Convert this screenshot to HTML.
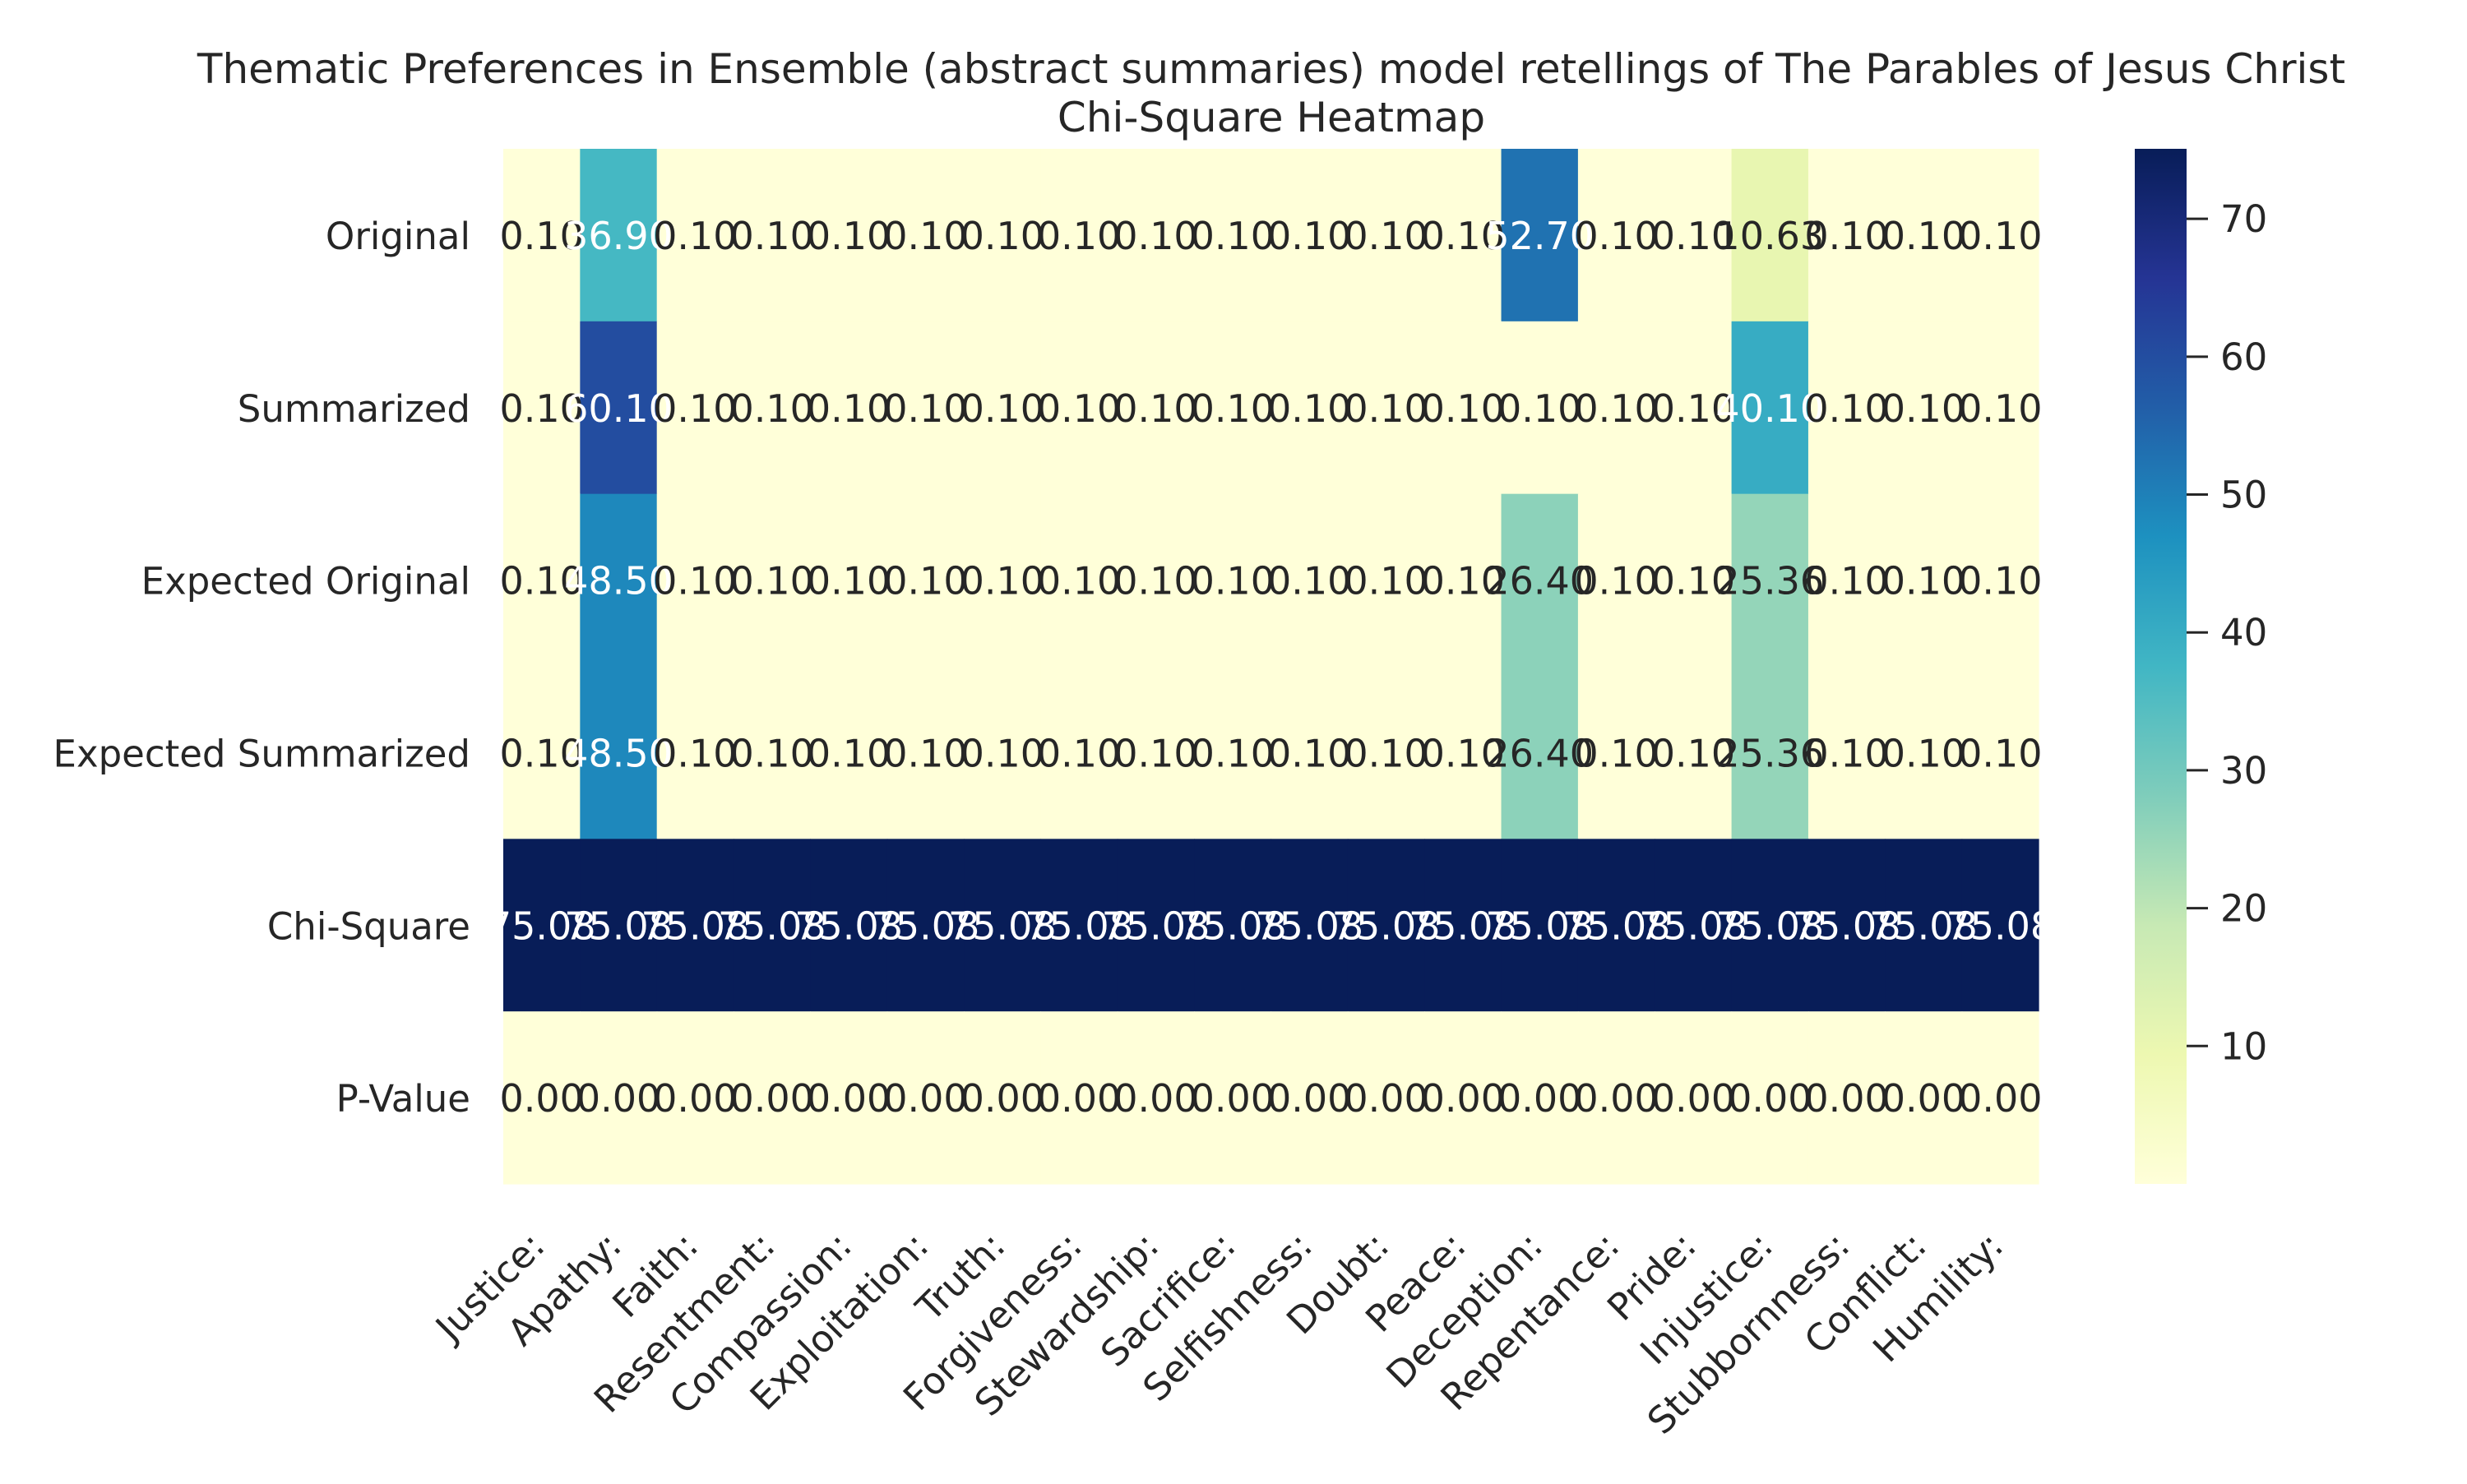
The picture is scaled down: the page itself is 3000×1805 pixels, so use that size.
<!DOCTYPE html>
<html><head><meta charset="utf-8"><style>
html,body{margin:0;padding:0;background:#fff;}
svg text{font-family:"DejaVu Sans","Liberation Sans",sans-serif;fill:#262626;}
</style></head><body>
<svg id="chart" width="3000" height="1800" viewBox="0 0 3000 1800" xmlns="http://www.w3.org/2000/svg">
<text x="1546" y="101" font-size="50" text-anchor="middle">Thematic Preferences in Ensemble (abstract summaries) model retellings of The Parables of Jesus Christ</text>
<text x="1546" y="160" font-size="50" text-anchor="middle">Chi-Square Heatmap</text>
<defs><linearGradient id="cbgrad" x1="0" y1="1" x2="0" y2="0">
<stop offset="0" stop-color="#ffffd9"/><stop offset="0.125" stop-color="#edf8b1"/><stop offset="0.25" stop-color="#c7e9b4"/><stop offset="0.375" stop-color="#7fcdbb"/><stop offset="0.5" stop-color="#41b6c4"/><stop offset="0.625" stop-color="#1d91c0"/><stop offset="0.75" stop-color="#225ea8"/><stop offset="0.875" stop-color="#253494"/><stop offset="1" stop-color="#081d58"/>
</linearGradient></defs>
<g id="cells"></g>
<g id="annots"></g>
<g id="ylabels"></g>
<g id="xlabels"></g>
<g id="colorbar"></g>
</svg>
<script>
const rowLabels = ["Original","Summarized","Expected Original","Expected Summarized","Chi-Square","P-Value"];
const colLabels = ["Justice:","Apathy:","Faith:","Resentment:","Compassion:","Exploitation:","Truth:","Forgiveness:","Stewardship:","Sacrifice:","Selfishness:","Doubt:","Peace:","Deception:","Repentance:","Pride:","Injustice:","Stubbornness:","Conflict:","Humility:"];
const rowOriginal = [0.10,36.90,0.10,0.10,0.10,0.10,0.10,0.10,0.10,0.10,0.10,0.10,0.10,52.70,0.10,0.10,10.63,0.10,0.10,0.10];
const rowSummarized = [0.10,60.10,0.10,0.10,0.10,0.10,0.10,0.10,0.10,0.10,0.10,0.10,0.10,0.10,0.10,0.10,40.10,0.10,0.10,0.10];
const rowExpOriginal = [0.10,48.50,0.10,0.10,0.10,0.10,0.10,0.10,0.10,0.10,0.10,0.10,0.10,26.40,0.10,0.10,25.36,0.10,0.10,0.10];
const rowExpSummarized = [0.10,48.50,0.10,0.10,0.10,0.10,0.10,0.10,0.10,0.10,0.10,0.10,0.10,26.40,0.10,0.10,25.36,0.10,0.10,0.10];
const rowChiSquare = [75.08,75.08,75.08,75.08,75.08,75.08,75.08,75.08,75.08,75.08,75.08,75.08,75.08,75.08,75.08,75.08,75.08,75.08,75.08,75.08];
const rowPValue = [0.00,0.00,0.00,0.00,0.00,0.00,0.00,0.00,0.00,0.00,0.00,0.00,0.00,0.00,0.00,0.00,0.00,0.00,0.00,0.00];
const cbTicks = [10,20,30,40,50,60,70];

const NS = "http://www.w3.org/2000/svg";
const rows = [rowOriginal,rowSummarized,rowExpOriginal,rowExpSummarized,rowChiSquare,rowPValue];
const nCols = rowOriginal.length;
const L = 612, R = 2479, T = 181, B = 1440;
const cw = (R - L) / nCols, rh = (B - T) / rows.length;
let vmin = Infinity, vmax = -Infinity;
rows.forEach(r => r.forEach(v => { vmin = Math.min(vmin, v); vmax = Math.max(vmax, v); }));
const stops = ["#ffffd9","#edf8b1","#c7e9b4","#7fcdbb","#41b6c4","#1d91c0","#225ea8","#253494","#081d58"].map(h => [parseInt(h.slice(1,3),16),parseInt(h.slice(3,5),16),parseInt(h.slice(5,7),16)]);
function cmap(v) {
  let t = (v - vmin) / (vmax - vmin); t = Math.max(0, Math.min(1, t));
  const p = t * (stops.length - 1), i = Math.min(Math.floor(p), stops.length - 2), f = p - i;
  return stops[i].map((c, k) => Math.round(c + (stops[i+1][k] - c) * f));
}
function xScale(i) { return L + i * cw; }
function yScale(j) { return T + j * rh; }
function cbY(v) { return B - (v - vmin) / (vmax - vmin) * (B - T); }

const gC = document.getElementById('cells'), gA = document.getElementById('annots');
rows.forEach((r, j) => r.forEach((v, i) => {
  const c = cmap(v);
  const rect = document.createElementNS(NS, 'rect');
  
  
  rect.setAttribute('x', xScale(i)); rect.setAttribute('y', yScale(j));
  rect.setAttribute('width', cw + 0.6); rect.setAttribute('height', rh + 0.6);
  rect.setAttribute('fill', `rgb(${c[0]},${c[1]},${c[2]})`);
  gC.appendChild(rect);
  const lum = (0.299*c[0] + 0.587*c[1] + 0.114*c[2]) / 255;
  const t = document.createElementNS(NS, 'text');
  
  
  t.setAttribute('x', xScale(i) + cw/2); t.setAttribute('y', yScale(j) + rh/2 + 17);
  t.setAttribute('font-size', '46'); t.setAttribute('text-anchor', 'middle');
  t.style.fill = lum < 0.6 ? '#ffffff' : '#262626';
  t.textContent = v.toFixed(2);
  gA.appendChild(t);
}));

const gY = document.getElementById('ylabels');
rowLabels.forEach((lab, j) => {
  const t = document.createElementNS(NS, 'text');
  
  
  t.setAttribute('x', 572); t.setAttribute('y', yScale(j) + rh/2 + 17);
  t.setAttribute('font-size', '45'); t.setAttribute('text-anchor', 'end');
  t.textContent = lab;
  gY.appendChild(t);
});

const gX = document.getElementById('xlabels');
colLabels.forEach((lab, i) => {
  const tx = xScale(i) + cw/2 + 6, ty = 1518;
  const t = document.createElementNS(NS, 'text');
  
  
  t.setAttribute('x', tx); t.setAttribute('y', ty);
  t.setAttribute('font-size', '45'); t.setAttribute('text-anchor', 'end');
  t.setAttribute('transform', `rotate(-45 ${tx} ${ty})`);
  t.textContent = lab;
  gX.appendChild(t);
});

const gB = document.getElementById('colorbar');
const cb = document.createElementNS(NS, 'rect');


cb.setAttribute('x', 2596); cb.setAttribute('y', T); cb.setAttribute('width', 63); cb.setAttribute('height', B - T);
cb.setAttribute('fill', 'url(#cbgrad)');
gB.appendChild(cb);
cbTicks.forEach(v => {
  const y = cbY(v);
  const ln = document.createElementNS(NS, 'line');
  
  
  ln.setAttribute('x1', 2659); ln.setAttribute('x2', 2685); ln.setAttribute('y1', y); ln.setAttribute('y2', y);
  ln.setAttribute('stroke', '#262626'); ln.setAttribute('stroke-width', '3');
  gB.appendChild(ln);
  const t = document.createElementNS(NS, 'text');
  
  
  t.setAttribute('x', 2700); t.setAttribute('y', y + 16);
  t.setAttribute('font-size', '45');
  t.textContent = v;
  gB.appendChild(t);
});
</script>
</body></html>
